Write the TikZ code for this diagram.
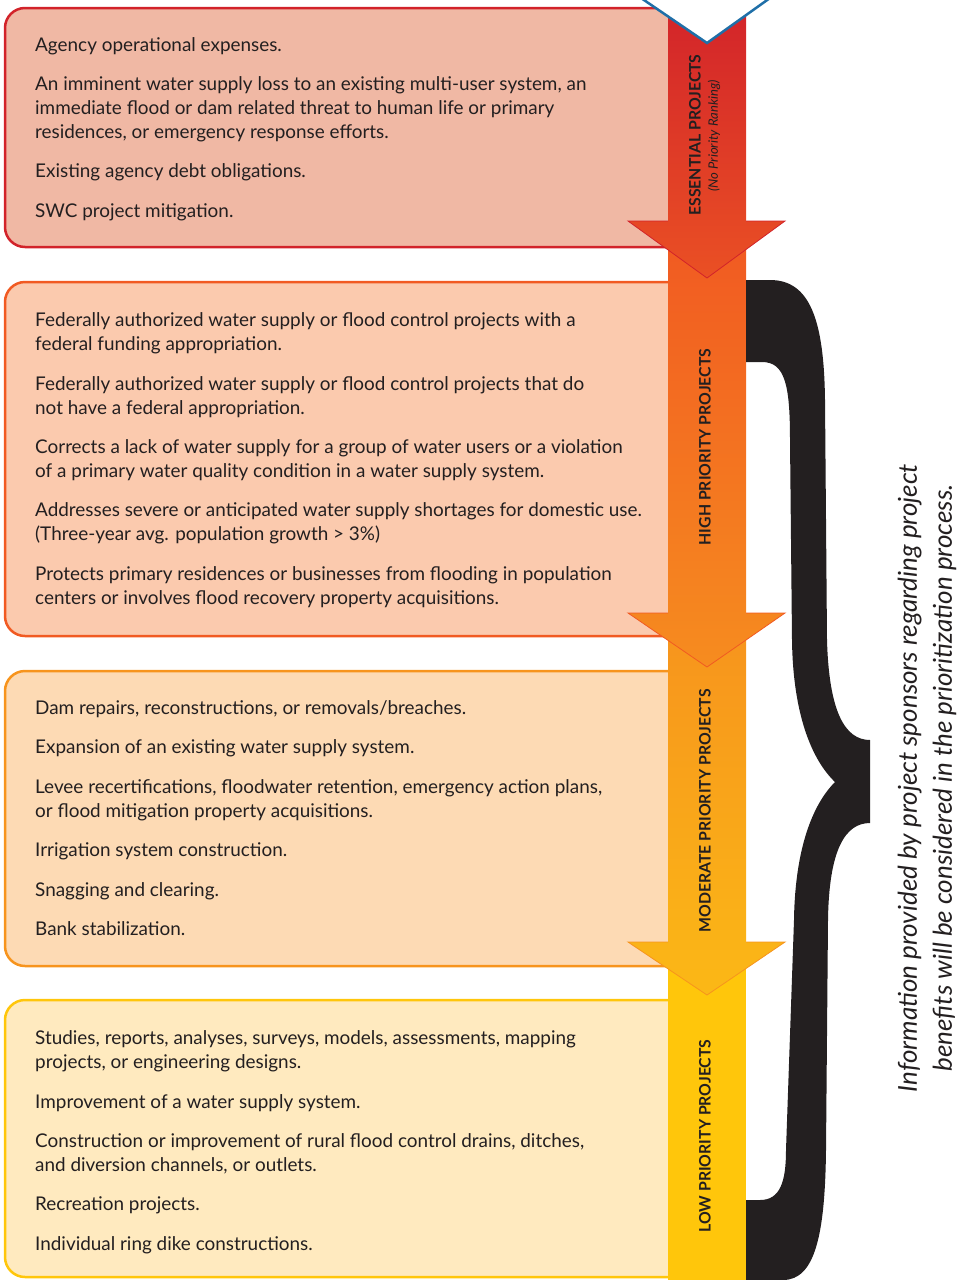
\documentclass[tikz,border=0pt]{standalone}
\usepackage{fontspec}
\setmainfont{Lato}
\definecolor{txt}{HTML}{231F20}
\definecolor{bdA}{HTML}{D2232A}
\definecolor{bdB}{HTML}{F15A22}
\definecolor{bdC}{HTML}{F7941D}
\definecolor{bdD}{HTML}{FFC60B}
\definecolor{fA}{HTML}{F0B8A4}
\definecolor{fB}{HTML}{FBCAAE}
\definecolor{fC}{HTML}{FDDAB4}
\definecolor{fD}{HTML}{FFEABF}
\definecolor{vblue}{HTML}{1F6FA8}
\newcommand\bodyfont{\fontsize{18.9}{24}\selectfont}
\newcommand\para[3]{\node[item] (#1) at (35,#2-16.8) {\strut #3};}
\begin{document}
\begin{tikzpicture}[x=1pt,y=-1pt,
  item/.style={anchor=north west, align=left, inner sep=0pt, font=\bodyfont, text=txt},
  panel/.style={line width=2.5pt, rounded corners=20pt},
  lab/.style={rotate=90, inner sep=0pt, text=txt, font=\fontsize{15.8}{18}\selectfont\bfseries},
  head/.style={line width=0.8pt, line join=miter}
]
\useasboundingbox (0,0) rectangle (964,1280);
% boxes
\draw[panel, draw=bdA, fill=fA] (5,8) rectangle (720,247);
\draw[panel, draw=bdB, fill=fB] (5,282) rectangle (720,636);
\draw[panel, draw=bdC, fill=fC] (5,671) rectangle (720,966);
\draw[panel, draw=bdD, fill=fD] (5,1000) rectangle (720,1277);
% arrow segments (bottom first)
\fill[bdD] (668,960) rectangle (746,1280);
\shade[top color=bdC, bottom color={rgb,255:red,251;green,184;blue,22}]
  (668,630) -- (668,942) -- (628,942) -- (707,995) -- (785,942) -- (746,942) -- (746,630) -- cycle;
\draw[head, draw=bdC] (668,942) -- (628,942) -- (707,995) -- (785,942) -- (746,942);
\shade[top color=bdB, bottom color={rgb,255:red,246;green,140;blue,31}]
  (668,240) -- (668,613) -- (628,613) -- (707,667) -- (785,613) -- (746,613) -- (746,240) -- cycle;
\draw[head, draw=bdB] (668,613) -- (628,613) -- (707,667) -- (785,613) -- (746,613);
\shade[top color=bdA, bottom color={rgb,255:red,234;green,80;blue,36}]
  (668,0) -- (668,221) -- (628,221) -- (707,278) -- (785,221) -- (746,221) -- (746,0) -- cycle;
\draw[head, draw=bdA] (668,221) -- (628,221) -- (707,278) -- (785,221) -- (746,221);
% blue chevron at top
\fill[white] (641,-2) -- (707,43) -- (770,-2) -- cycle;
\draw[vblue, line width=2.5pt, line join=miter] (641,-2) -- (707,43) -- (770,-2);
% labels in shaft
\node[lab] (lEss) at (695,135) {ESSENTIAL PROJECTS};
\node[rotate=90, inner sep=0pt, text=txt, font=\fontsize{13}{15}\selectfont\itshape] (lNo) at (714,136) {(No Priority Ranking)};
\node[lab] (lHigh) at (705,447) {HIGH PRIORITY PROJECTS};
\node[lab] (lMod) at (705,811) {MODERATE PRIORITY PROJECTS};
\node[lab] (lLow) at (705,1136) {LOW PRIORITY PROJECTS};
% brace
\fill[txt] (746,280) -- (770,280) .. controls (810,280) and (824,320) .. (825,400)
  -- (827,640) .. controls (829,712) and (845,740) .. (870,740)
  -- (870,823) .. controls (845,823) and (829,850) .. (828,920)
  -- (826,1150) .. controls (825,1235) and (815,1280) .. (783,1280)
  -- (746,1280) -- (746,1200) -- (760,1200) .. controls (780,1200) and (786,1182) .. (786,1150)
  -- (794,920) .. controls (795,850) and (812,805) .. (835,782)
  .. controls (812,760) and (793,715) .. (792,640)
  -- (790,440) .. controls (790,385) and (785,362) .. (762,362) -- (746,362) -- cycle;
% side note
\node[rotate=90, align=center, inner sep=0pt, text=txt, font=\fontsize{26}{35}\selectfont\itshape] (note) at (927,778)
  {Information provided by project sponsors regarding project\\benefits will be considered in the prioritization process.};
% box 1 text
\para{a1}{51}{Agency operational expenses.}
\para{a2}{90}{An imminent water supply loss to an existing multi-user system, an\\immediate flood or dam related threat to human life or primary\\residences, or emergency response efforts.}
\para{a3}{177}{Existing agency debt obligations.}
\para{a4}{217}{SWC project mitigation.}
% box 2 text
\para{b1}{326}{Federally authorized water supply or flood control projects with a\\federal funding appropriation.}
\para{b2}{390}{Federally authorized water supply or flood control projects that do\\not have a federal appropriation.}
\para{b3}{453}{Corrects a lack of water supply for a group of water users or a violation\\of a primary water quality condition in a water supply system.}
\para{b4}{516}{Addresses severe or anticipated water supply shortages for domestic use.\\(Three-year avg. population growth > 3\%)}
\para{b5}{580}{Protects primary residences or businesses from flooding in population\\centers or involves flood recovery property acquisitions.}
% box 3 text
\para{c1}{714}{Dam repairs, reconstructions, or removals/breaches.}
\para{c2}{753}{Expansion of an existing water supply system.}
\para{c3}{793}{Levee recertifications, floodwater retention, emergency action plans,\\or flood mitigation property acquisitions.}
\para{c4}{856}{Irrigation system construction.}
\para{c5}{896}{Snagging and clearing.}
\para{c6}{935}{Bank stabilization.}
% box 4 text
\para{d1}{1044}{Studies, reports, analyses, surveys, models, assessments, mapping\\projects, or engineering designs.}
\para{d2}{1108}{Improvement of a water supply system.}
\para{d3}{1147}{Construction or improvement of rural flood control drains, ditches,\\and diversion channels, or outlets.}
\para{d4}{1210}{Recreation projects.}
\para{d5}{1250}{Individual ring dike constructions.}
\end{tikzpicture}
\end{document}
